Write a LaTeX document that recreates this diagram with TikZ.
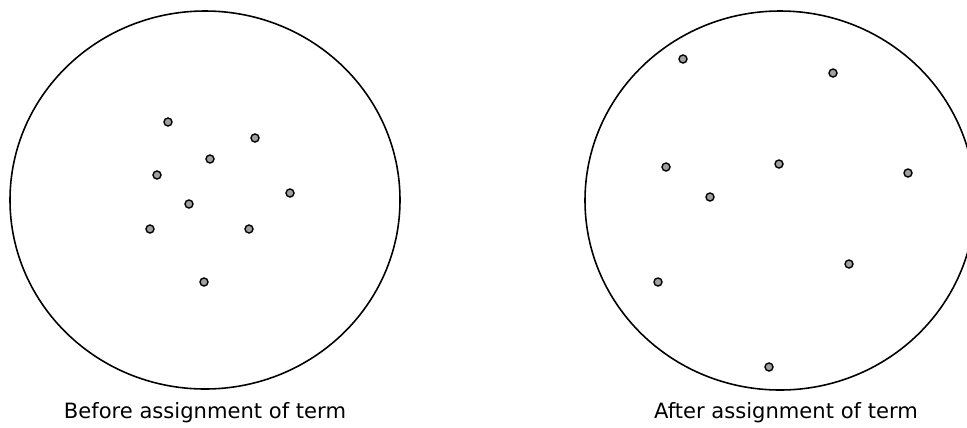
\documentclass[tikz,border=0pt]{standalone}
\usepackage{fontspec}
\setmainfont{DejaVu Sans}
\usetikzlibrary{positioning}
\definecolor{dotgray}{RGB}{160, 160, 160}

\begin{document}
\begin{tikzpicture}[
  x=0.02cm, y=-0.02cm,
  ring/.style={draw=black, line width=0.9pt},
  dot/.style={circle, draw=black, fill=dotgray, line width=0.8pt, inner sep=0pt, minimum size=0.16cm},
  caption/.style={font=\fontsize{12}{14}\selectfont, inner sep=0pt},
]
  \useasboundingbox (0,0) rectangle (967,427);
  \clip (0,0) rectangle (967,427);

  \draw[ring] (205,200) ellipse [x radius=195, y radius=189];
  \draw[ring] (780,200.5) ellipse [x radius=195, y radius=189.5];

  \foreach \px/\py [count=\i] in {168/122, 255/138, 210/159, 157/175, 290/193, 189/204, 150/229, 249/229, 204/282}
    \node[dot] (b\i) at (\px,\py) {};

  \foreach \px/\py [count=\i] in {683/59, 833/73, 666/167, 779/164, 908/173, 710/197, 849/264, 658/282, 769/367}
    \node[dot] (a\i) at (\px,\py) {};

  \node[caption] (before) at (205,413) {Before assignment of term};
  \node[caption] (after)  at (786,413) {After assignment of term};
\end{tikzpicture}
\end{document}
